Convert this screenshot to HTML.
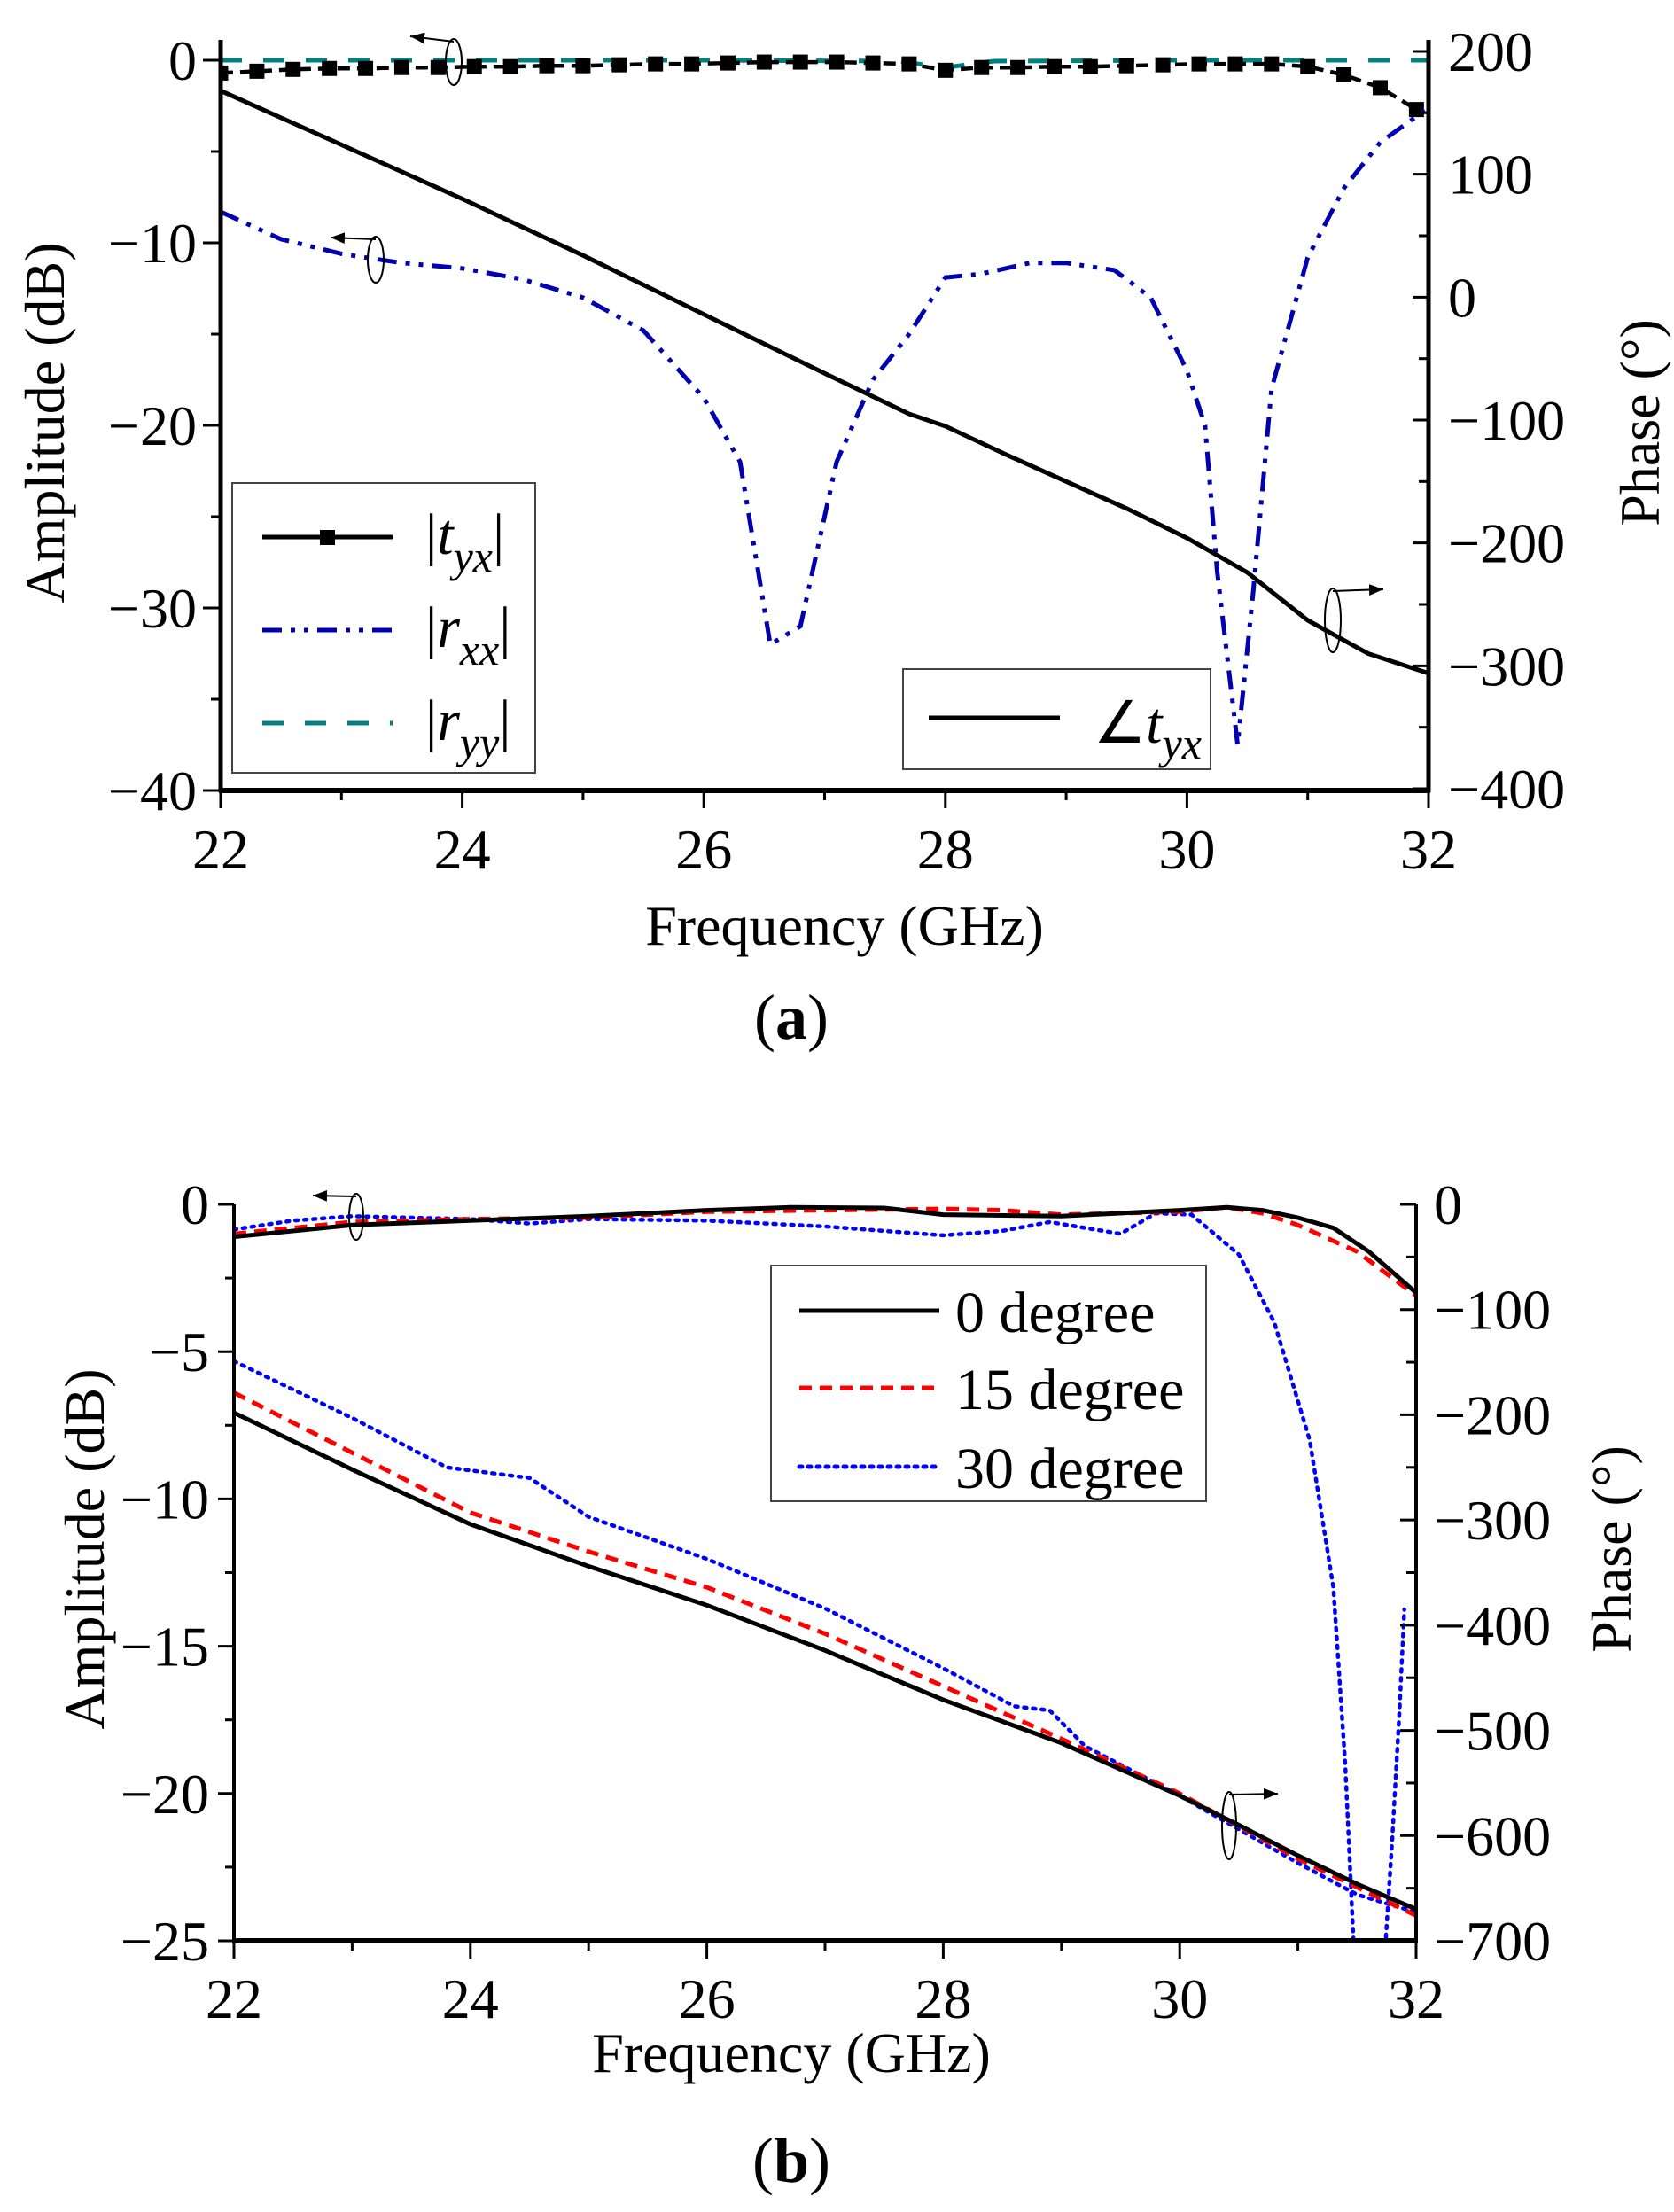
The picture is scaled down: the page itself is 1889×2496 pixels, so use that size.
<!DOCTYPE html>
<html><head><meta charset="utf-8">
<style>
html,body{margin:0;padding:0;background:#fff;}
svg, svg text{font-family:"Liberation Serif","Times New Roman",serif;}
svg{display:block;}
</style></head>
<body>
<svg id="fig" width="1889" height="2496" viewBox="0 0 1889 2496" xmlns="http://www.w3.org/2000/svg" font-family="Liberation Serif, serif">
<defs>
<marker id="ah" viewBox="0 0 10 10" refX="10" refY="5" markerWidth="8" markerHeight="8" orient="auto"><path d="M0,1 L10,5 L0,9 z" fill="#000"/></marker>
</defs>
<g id="chartA"></g>
<g id="chartB"></g>
</svg>
<script>
// ---------- Chart (a) data ----------
const aTyxFreq = [22,22.3,22.6,22.9,23.2,23.5,23.8,24.1,24.4,24.7,25,25.3,25.6,25.9,26.2,26.5,26.8,27.1,27.4,27.7,28,28.3,28.6,28.9,29.2,29.5,29.8,30.1,30.4,30.7,31,31.3,31.6,31.9];
const aTyxAmp  = [-0.7,-0.6,-0.5,-0.45,-0.45,-0.4,-0.4,-0.35,-0.35,-0.3,-0.3,-0.25,-0.2,-0.2,-0.15,-0.1,-0.1,-0.1,-0.15,-0.2,-0.55,-0.4,-0.4,-0.35,-0.35,-0.3,-0.25,-0.2,-0.2,-0.2,-0.35,-0.8,-1.5,-2.7];
const aRxxFreq = [22,22.5,23,23.5,24,24.5,25,25.5,26,26.3,26.55,26.8,27.1,27.4,27.7,28,28.3,28.7,29,29.4,29.7,30,30.15,30.25,30.42,30.55,30.7,31,31.3,31.6,32];
const aRxxAmp  = [-8.3,-9.8,-10.6,-11.1,-11.4,-12,-13,-14.8,-18.5,-22,-32,-31,-22,-17.5,-15,-11.9,-11.7,-11.1,-11.1,-11.5,-13,-17,-20,-28,-37.5,-29,-18,-10.8,-7,-4.5,-2.6];
const aRyyFreq = [22,24,26,27.6,28,28.4,30,32];
const aRyyAmp  = [0,0,0,-0.05,-0.4,-0.05,0,0];
const aPhFreq  = [22,22.5,23,24,25,26,27,27.7,28,28.5,29,29.5,30,30.5,31,31.5,32];
const aPhVal   = [168,146,124,80,34,-14,-62,-95,-105,-128,-150,-172,-196,-224,-263,-290,-306];
const aXTicks  = [22,24,26,28,30,32];
const aYTicks  = [0,-10,-20,-30,-40];
const aY2Ticks = [200,100,0,-100,-200,-300,-400];

// ---------- Chart (b) data ----------
const bAmp0F = [22,23,24,25,26,26.7,27.5,28,29,30,30.4,30.7,31,31.3,31.6,32];
const bAmp0V = [-1.1,-0.7,-0.55,-0.4,-0.2,-0.1,-0.12,-0.35,-0.4,-0.2,-0.1,-0.2,-0.45,-0.8,-1.6,-3.0];
const bAmp15F = [22,23,24,25,26,27,28,28.5,29,30,30.4,30.7,31,31.5,32];
const bAmp15V = [-1.0,-0.6,-0.5,-0.45,-0.25,-0.2,-0.15,-0.2,-0.35,-0.25,-0.1,-0.3,-0.7,-1.6,-3.1];
const bAmp30F = [22,22.5,23,23.5,24,24.5,25,26,27,28,28.5,28.9,29.5,29.8,30.1,30.5,30.8,31.1,31.3,31.4,31.47];
const bAmp30V = [-0.85,-0.55,-0.4,-0.45,-0.5,-0.65,-0.5,-0.55,-0.75,-1.05,-0.9,-0.6,-1.0,-0.3,-0.35,-1.7,-4,-8,-13,-19,-25];
const bPh0F = [22,23,24,25,26,27,28,29,30,30.5,31,31.5,32];
const bPh0V = [-198,-252,-304,-344,-381,-424,-471,-512,-562,-590,-619,-646,-670];
const bPh15F = [22,23,24,25,26,27,28,29,30,31,31.5,32];
const bPh15V = [-179,-236,-293,-330,-364,-408,-458,-508,-560,-622,-649,-676];
const bPh30F = [22,23,23.8,24.5,25,26,27,28,28.6,28.9,29.2,30,31,31.5,32];
const bPh30V = [-149,-203,-250,-260,-297,-337,-384,-441,-477,-481,-515,-562,-626,-656,-673];
const bPh30wrapF = [31.74,31.8,31.86,31.9];
const bPh30wrapV = [-705,-600,-480,-385];
const bXTicks = [22,24,26,28,30,32];
const bYTicks = [0,-5,-10,-15,-20,-25];
const bY2Ticks = [0,-100,-200,-300,-400,-500,-600,-700];

const NS = "http://www.w3.org/2000/svg";
const FF = '"Liberation Serif", serif';
function mk(parent, tag, attrs){const e=document.createElementNS(NS,tag);for(const k in attrs)e.setAttribute(k,attrs[k]);if(tag==='text')e.setAttribute('font-family',FF);parent.appendChild(e);return e;}
function pathD(fx,fy,xs,ys){return xs.map((x,i)=>(i?'L':'M')+fx(x).toFixed(1)+','+fy(ys[i]).toFixed(1)).join(' ');}

// ========== Chart A ==========
(function(){
  const g=document.getElementById('chartA');
  const L=249,R=1612,T=45,B=892;
  const X=f=>L+(f-22)/10*(R-L);
  const Y=v=>68+(-v)*(892-68)/40;
  const Y2=p=>890-(p+400)*(890-58)/600;
  const clip=mk(g,'clipPath',{id:'clipA'});mk(clip,'rect',{x:L,y:T-10,width:R-L,height:B-T+10});
  const plot=mk(g,'g',{'clip-path':'url(#clipA)'});
  let p;
  p=mk(plot,'path',{d:pathD(X,Y,aRyyFreq,aRyyAmp),fill:'none',stroke:'#008080',"stroke-width":5,"stroke-dasharray":'24 24'});
  
  p=mk(plot,'path',{d:pathD(X,Y,aTyxFreq,aTyxAmp),fill:'none',stroke:'#000',"stroke-width":4.5,"stroke-dasharray":'14 8'});
  
  aTyxFreq.forEach((f,i)=>{const r=mk(plot,'rect',{x:X(f)-8.5,y:Y(aTyxAmp[i])-8.5,width:17,height:17,fill:'#000'});
    
    });
  p=mk(plot,'path',{d:pathD(X,Y,aRxxFreq,aRxxAmp),fill:'none',stroke:'#0000b0',"stroke-width":5,"stroke-dasharray":'22 10 5 10 5 10'});
  
  p=mk(plot,'path',{d:pathD(X,Y2,aPhFreq,aPhVal),fill:'none',stroke:'#000',"stroke-width":5});
  
  mk(g,'line',{x1:L,y1:T,x2:L,y2:B+2,stroke:'#000',"stroke-width":5});
  mk(g,'line',{x1:R,y1:T,x2:R,y2:B+2,stroke:'#000',"stroke-width":5});
  mk(g,'line',{x1:L-2,y1:B,x2:R+2,y2:B,stroke:'#000',"stroke-width":6});
  for(let f=22;f<=32;f++){const maj=f%2===0;mk(g,'line',{x1:X(f),y1:B,x2:X(f),y2:B+(maj?20:11),stroke:'#000',"stroke-width":3});}
  aXTicks.forEach(f=>{const t=mk(g,'text',{x:X(f),y:980,"font-size":64,"text-anchor":'middle'});t.textContent=f;
    });
  for(let v=0;v>=-40;v-=5){const maj=v%10===0;mk(g,'line',{x1:L,y1:Y(v),x2:L-(maj?20:11),y2:Y(v),stroke:'#000',"stroke-width":3});}
  aYTicks.forEach(v=>{const t=mk(g,'text',{x:222,y:Y(v)+22,"font-size":64,"text-anchor":'end'});t.textContent=v===0?'0':'\u2212'+(-v);
    });
  for(let v=200;v>=-400;v-=50){const maj=v%100===0;mk(g,'line',{x1:R,y1:Y2(v),x2:R-(maj?18:11),y2:Y2(v),stroke:'#000',"stroke-width":3});}
  aY2Ticks.forEach(v=>{const t=mk(g,'text',{x:1634,y:Y2(v)+22,"font-size":64});t.textContent=v<0?'\u2212'+(-v):v;
    });
  let t;
  t=mk(g,'text',{x:953,y:1066,"font-size":64,"text-anchor":'middle'});t.textContent='Frequency (GHz)';
  
  t=mk(g,'text',{x:0,y:0,"font-size":64,"text-anchor":'middle',transform:'translate(72,477) rotate(-90)'});t.textContent='Amplitude (dB)';
  
  t=mk(g,'text',{x:0,y:0,"font-size":64,"text-anchor":'middle',transform:'translate(1872,477) rotate(-90)'});t.textContent='Phase (°)';
  
  t=mk(g,'text',{x:893,y:1172,"font-size":72,"text-anchor":'middle'});t.innerHTML='(<tspan font-weight="bold">a</tspan>)';
  
  const ann=[[512,70,463,41],[424,293,373,268],[1504,700,1561,665]];
  ann.forEach(a=>{const ry=a[1]>600?36:26;mk(g,'ellipse',{cx:a[0],cy:a[1],rx:9,ry:ry,fill:'none',stroke:'#000',"stroke-width":2});
    mk(g,'path',{d:`M${a[0]},${a[1]-ry+3} L${a[2]},${a[3]}`,stroke:'#000',"stroke-width":2,fill:'none','marker-end':'url(#ah)'});});
  const lg=mk(g,'g',{});
  mk(lg,'rect',{x:262,y:545,width:342,height:327,fill:'#fff',stroke:'#444',"stroke-width":2});
  mk(lg,'line',{x1:296,y1:606,x2:443,y2:606,stroke:'#000',"stroke-width":5});
  mk(lg,'rect',{x:361,y:598,width:17,height:17,fill:'#000'});
  mk(lg,'line',{x1:296,y1:711,x2:443,y2:711,stroke:'#0000b0',"stroke-width":5,"stroke-dasharray":'22 10 5 10 5 10'});
  mk(lg,'line',{x1:296,y1:816,x2:443,y2:816,stroke:'#008080',"stroke-width":5,"stroke-dasharray":'24 24'});
  const labs=[['t','yx',625],['r','xx',730],['r','yy',835]];
  labs.forEach(l=>{const tt=mk(lg,'text',{x:480,y:l[2],"font-size":66});
    tt.innerHTML=`|<tspan font-style="italic">${l[0]}</tspan><tspan font-style="italic" font-size="50" dy="20">${l[1]}</tspan><tspan dy="-20">|</tspan>`;});
  const lg2=mk(g,'g',{});
  mk(lg2,'rect',{x:1019,y:755,width:347,height:113,fill:'#fff',stroke:'#444',"stroke-width":2});
  mk(lg2,'line',{x1:1048,y1:810,x2:1196,y2:810,stroke:'#000',"stroke-width":5});
  const t2=mk(lg2,'text',{x:1234,y:838,"font-size":66});
  t2.innerHTML='∠<tspan font-style="italic">t</tspan><tspan font-style="italic" font-size="50" dy="18">yx</tspan>';
})();

// ========== Chart B ==========
(function(){
  const g=document.getElementById('chartB');
  const L=264,R=1598,T=1359,B=2190;
  const X=f=>L+(f-22)/10*(R-L);
  const Y=v=>T+(-v)*(B-T)/25;
  const Y2=p=>T+(-p)*(B-T)/700;
  const clip=mk(g,'clipPath',{id:'clipB'});mk(clip,'rect',{x:L,y:T-25,width:R-L,height:B-T+25});
  const plot=mk(g,'g',{'clip-path':'url(#clipB)'});
  const series=[
    [bAmp30F,bAmp30V,Y,'#0000ff','3 7','amp-30deg-line'],
    [bPh30F,bPh30V,Y2,'#0000ff','3 7','phase-30deg-line'],
    [bPh30wrapF,bPh30wrapV,Y2,'#0000ff','3 7','phase-30deg-wrap-line'],
    [bAmp15F,bAmp15V,Y,'#ff0000','14 9','amp-15deg-line'],
    [bPh15F,bPh15V,Y2,'#ff0000','14 9','phase-15deg-line'],
    [bAmp0F,bAmp0V,Y,'#000','','amp-0deg-line'],
    [bPh0F,bPh0V,Y2,'#000','','phase-0deg-line']];
  series.forEach(s=>{const a={d:pathD(X,s[2],s[0],s[1]),fill:'none',stroke:s[3],"stroke-width":s[4]==='3 7'?4.5:5,"stroke-linecap":s[4]==='3 7'?'round':'butt'};
    if(s[4])a["stroke-dasharray"]=s[4];
    const p=mk(plot,'path',a);
    
    });
  mk(g,'line',{x1:L,y1:T,x2:L,y2:B+2,stroke:'#000',"stroke-width":4});
  mk(g,'line',{x1:R,y1:T,x2:R,y2:B+2,stroke:'#000',"stroke-width":4});
  mk(g,'line',{x1:L-2,y1:B,x2:R+2,y2:B,stroke:'#000',"stroke-width":6});
  for(let f=22;f<=32;f++){const maj=f%2===0;mk(g,'line',{x1:X(f),y1:B,x2:X(f),y2:B+(maj?20:11),stroke:'#000',"stroke-width":3});}
  bXTicks.forEach(f=>{const t=mk(g,'text',{x:X(f),y:2277,"font-size":64,"text-anchor":'middle'});t.textContent=f;
    });
  for(let v=0;v>=-25;v-=2.5){const maj=v%5===0;mk(g,'line',{x1:L,y1:Y(v),x2:L-(maj?18:10),y2:Y(v),stroke:'#000',"stroke-width":3});}
  bYTicks.forEach(v=>{const t=mk(g,'text',{x:236,y:Y(v)+22,"font-size":64,"text-anchor":'end'});t.textContent=v===0?'0':'\u2212'+(-v);
    });
  for(let v=0;v>=-700;v-=50){const maj=v%100===0;mk(g,'line',{x1:R,y1:Y2(v),x2:R-(maj?18:11),y2:Y2(v),stroke:'#000',"stroke-width":3});}
  bY2Ticks.forEach(v=>{const t=mk(g,'text',{x:1618,y:Y2(v)+22,"font-size":64});t.textContent=v<0?'\u2212'+(-v):v;
    });
  let t;
  t=mk(g,'text',{x:893,y:2338,"font-size":64,"text-anchor":'middle'});t.textContent='Frequency (GHz)';
  
  t=mk(g,'text',{x:0,y:0,"font-size":64,"text-anchor":'middle',transform:'translate(117,1748) rotate(-90)'});t.textContent='Amplitude (dB)';
  
  t=mk(g,'text',{x:0,y:0,"font-size":64,"text-anchor":'middle',transform:'translate(1840,1748) rotate(-90)'});t.textContent='Phase (°)';
  
  t=mk(g,'text',{x:893,y:2462,"font-size":72,"text-anchor":'middle'});t.innerHTML='(<tspan font-weight="bold">b</tspan>)';
  
  const ann=[[402,1373,353,1349],[1387,2060,1442,2024]];
  ann.forEach((a,i)=>{const ry=i?38:26;mk(g,'ellipse',{cx:a[0],cy:a[1],rx:8,ry:ry,fill:'none',stroke:'#000',"stroke-width":2});
    mk(g,'path',{d:`M${a[0]},${a[1]-ry+3} L${a[2]},${a[3]}`,stroke:'#000',"stroke-width":2,fill:'none','marker-end':'url(#ah)'});});
  const lg=mk(g,'g',{});
  mk(lg,'rect',{x:870,y:1428,width:491,height:266,fill:'#fff',stroke:'#444',"stroke-width":2});
  const ents=[['#000','',1479,'0 degree'],['#ff0000','14 9',1566,'15 degree'],['#0000ff','3 7',1655,'30 degree']];
  ents.forEach(e=>{const a={x1:902,y1:e[2],x2:1060,y2:e[2],stroke:e[0],"stroke-width":5,"stroke-linecap":e[1]==='3 7'?'round':'butt'};
    if(e[1])a["stroke-dasharray"]=e[1];mk(lg,'line',a);
    const tt=mk(lg,'text',{x:1078,y:e[2]+24,"font-size":66});tt.textContent=e[3];});
})();
</script>
</body></html>
